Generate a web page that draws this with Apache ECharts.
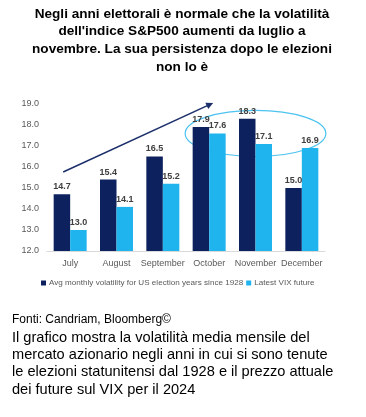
<!DOCTYPE html>
<html><head><meta charset="utf-8">
<script src="https://cdn.jsdelivr.net/npm/echarts@6/dist/echarts.min.js"></script>
<style>html,body{margin:0;padding:0;background:#fff}#c{width:366px;height:417px}</style>
</head><body><div id="c"></div>
<script>
const categories = ['July','August','September','October','November','December'];
const avgElection = [14.7, 15.4, 16.5, 17.9, 18.3, 15.0];
const vixFuture = [13.0, 14.1, 15.2, 17.6, 17.1, 16.9];
const seriesNames = ['Avg monthly volatility for US election years since 1928', 'Latest VIX future'];
const yMin = 12, yMax = 19, yStep = 1;

const chart = echarts.init(document.getElementById('c'), null, {renderer:'canvas'});
const labelStyle = {show:true, position:'top', distance:3, fontSize:9, fontWeight:'bold', color:'#404040', fontFamily:'Liberation Sans, Arial', formatter: p => p.value.toFixed(1)};
chart.setOption({
  animation:false,
  textStyle:{fontFamily:'Liberation Sans, Arial'},
  title:[
    {text:"Negli anni elettorali è normale che la volatilità\ndell'indice S&P500 aumenti da luglio a\nnovembre. La sua persistenza dopo le elezioni\nnon lo è",
     left:182, top:5, textAlign:'center', padding:0,
     textStyle:{fontSize:13.6, fontWeight:'bold', color:'#000', lineHeight:17.7, fontFamily:'Liberation Sans, Arial'}},
    {text:'Fonti: Candriam, Bloomberg©', left:12, top:314, padding:0,
     textStyle:{fontSize:12, fontWeight:'normal', color:'#000', fontFamily:'Liberation Sans, Arial'}},
    {text:'Il grafico mostra la volatilità media mensile del\nmercato azionario negli anni in cui si sono tenute\nle elezioni statunitensi dal 1928 e il prezzo attuale\ndei future sul VIX per il 2024',
     left:12, top:329, padding:0,
     textStyle:{fontSize:14.6, fontWeight:'normal', color:'#000', lineHeight:17.3, fontFamily:'Liberation Sans, Arial'}}
  ],
  legend:{bottom:125, left:36, itemWidth:5, itemHeight:5, itemGap:3, icon:'rect',
    textStyle:{fontSize:8.1, color:'#595959', padding:[0,0,0,-2]}},
  grid:{left:47, right:41, top:104, bottom:166},
  xAxis:{type:'category', data:categories,
    axisLine:{lineStyle:{color:'#d9d9d9', width:1}}, axisTick:{show:false},
    axisLabel:{fontSize:9, color:'#595959', margin:8, interval:0}},
  yAxis:{type:'value', min:yMin, max:yMax, interval:yStep,
    axisLine:{show:false}, axisTick:{show:false}, splitLine:{show:false},
    axisLabel:{fontSize:9, color:'#595959', margin:8, formatter: v => v.toFixed(1)}},
  series:[
    {name:seriesNames[0], type:'bar', data:avgElection, barWidth:16.5, barGap:'0%',
     itemStyle:{color:'#0c215e'}, label:labelStyle},
    {name:seriesNames[1], type:'bar', data:vixFuture, barWidth:16.5,
     itemStyle:{color:'#1fb4ee'}, label:labelStyle}
  ]
});

// annotations positioned via axis scales
const p = (x, y) => chart.convertToPixel({gridIndex:0}, [x, y]);
const a0 = p(0, 15.76), a1 = p(3, 19.05);
const start = [a0[0]-7, a0[1]], end = [a1[0]+4, a1[1]];
const ang = Math.atan2(end[1]-start[1], end[0]-start[0]);
const hl = 7, hw = 3.5;
const tip = end;
const b1 = [end[0]-hl*Math.cos(ang)+hw*Math.sin(ang), end[1]-hl*Math.sin(ang)-hw*Math.cos(ang)];
const b2 = [end[0]-hl*Math.cos(ang)-hw*Math.sin(ang), end[1]-hl*Math.sin(ang)+hw*Math.cos(ang)];
const e3 = p(3, 17.6), e5 = p(5, 17.6);
const eT = p(4, 18.7), eB = p(4, 16.5);
chart.setOption({graphic:[
  {type:'line', shape:{x1:start[0], y1:start[1], x2:end[0]-4*Math.cos(ang), y2:end[1]-4*Math.sin(ang)}, style:{stroke:'#1c2f6b', lineWidth:1.5}},
  {type:'polygon', shape:{points:[tip,b1,b2]}, style:{fill:'#1c2f6b'}},
  {type:'ellipse', shape:{cx:(e3[0]+e5[0])/2, cy:e3[1], rx:(e5[0]-e3[0])/2+24, ry:(eB[1]-eT[1])/2}, style:{fill:'none', stroke:'#4cc3f0', lineWidth:1.2}}
]});
</script></body></html>
